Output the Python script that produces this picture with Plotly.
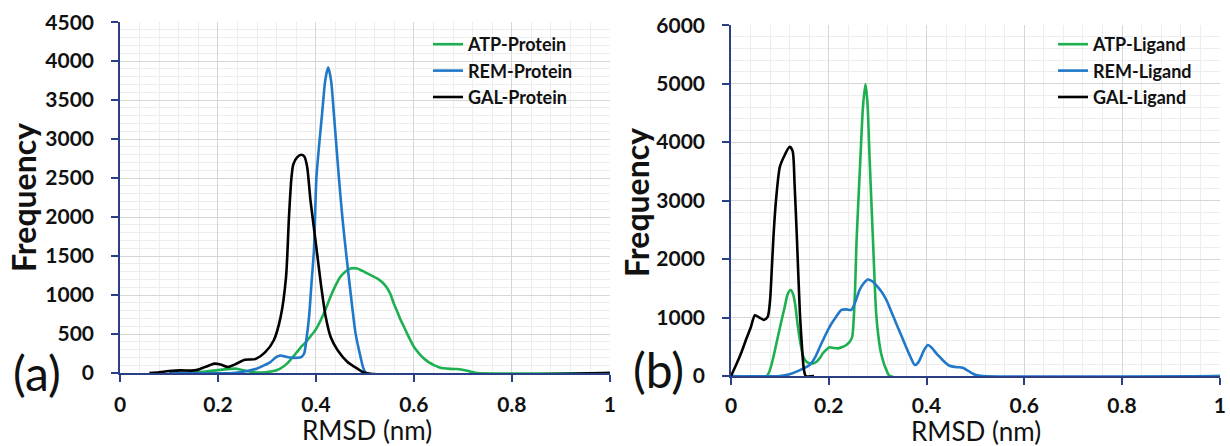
import plotly.graph_objects as go

# ---------------- Panel (a): protein RMSD distributions ----------------
atp_p_x = [0.10, 0.15, 0.175, 0.197, 0.218, 0.238, 0.259, 0.279, 0.297, 0.314, 0.328, 0.341, 0.355,
           0.369, 0.38, 0.389, 0.40, 0.41, 0.42, 0.43, 0.44, 0.45, 0.46, 0.471, 0.484, 0.495, 0.505,
           0.515, 0.525, 0.536, 0.546, 0.553, 0.559, 0.566, 0.573, 0.58, 0.586, 0.593, 0.60, 0.61,
           0.62, 0.63, 0.641, 0.651, 0.661, 0.675, 0.688, 0.699, 0.709, 0.72, 0.729, 1.0]
atp_p_y = [0, 5, 20, 34, 50, 55, 25, 5, 10, 25, 60, 120, 220,
           330, 400, 470, 560, 680, 820, 980, 1120, 1234, 1300, 1340, 1340, 1310, 1277,
           1245, 1213, 1160, 1085, 1000, 892, 790, 680, 590, 508, 420, 337, 255,
           188, 140, 102, 75, 60, 53, 51, 42, 30, 12, 0, 0]

rem_p_x = [0.10, 0.231, 0.26, 0.279, 0.295, 0.307, 0.318, 0.328, 0.335, 0.341, 0.352, 0.362, 0.37,
           0.376, 0.381, 0.386, 0.391, 0.396, 0.401, 0.407, 0.413, 0.419, 0.425, 0.431, 0.437,
           0.442, 0.447, 0.454, 0.461, 0.471, 0.481, 0.491, 0.497, 0.503, 1.0]
rem_p_y = [0, 0, 25, 55, 100, 140, 200, 225, 215, 205, 195, 196, 205,
           250, 450, 720, 1150, 1575, 2500, 2950, 3350, 3750, 3920, 3750, 3300,
           2900, 2500, 2000, 1575, 1020, 508, 210, 60, 0, 0]

gal_p_x = [0.06, 0.08, 0.10, 0.124, 0.145, 0.158, 0.175, 0.193, 0.205, 0.22, 0.235, 0.255, 0.276,
           0.297, 0.314, 0.328, 0.339, 0.345, 0.35, 0.354, 0.362, 0.37, 0.376, 0.382, 0.389, 0.40,
           0.41, 0.42, 0.43, 0.444, 0.464, 0.484, 0.501, 1.0]
gal_p_y = [0, 10, 25, 34, 30, 40, 80, 120, 110, 77, 110, 170, 178,
           270, 420, 720, 1230, 2000, 2500, 2680, 2770, 2800, 2780, 2650, 2210, 1660,
           1150, 720, 465, 295, 145, 60, 0, 0]

# ---------------- Panel (b): ligand RMSD distributions ----------------
atp_l_x = [0.0, 0.073, 0.083, 0.093, 0.102, 0.11, 0.116, 0.122, 0.127, 0.131, 0.136, 0.141, 0.148,
           0.155, 0.161, 0.168, 0.175, 0.182, 0.188, 0.195, 0.202, 0.21, 0.219, 0.228, 0.236, 0.244,
           0.248, 0.253, 0.257, 0.2646, 0.27, 0.275, 0.279, 0.2837, 0.2905, 0.297, 0.302, 0.307,
           0.318, 0.325, 1.0]
atp_l_y = [0, 0, 200, 560, 900, 1185, 1400, 1470, 1400, 1240, 900, 615, 330,
           240, 217, 215, 245, 310, 388, 450, 490, 480, 473, 495, 530, 600,
           672, 1300, 2325, 3692, 4600, 4990, 4700, 3692, 2325, 1070, 650, 390,
           100, 0, 0]

rem_l_x = [0.0, 0.10, 0.12, 0.134, 0.148, 0.161, 0.172, 0.182, 0.192, 0.202, 0.214, 0.226, 0.236,
           0.246, 0.255, 0.263, 0.272, 0.28, 0.289, 0.297, 0.308, 0.318, 0.328, 0.338, 0.348, 0.358,
           0.367, 0.376, 0.383, 0.389, 0.396, 0.403, 0.411, 0.42, 0.43, 0.44, 0.447, 0.454, 0.464,
           0.474, 0.481, 0.488, 0.495, 0.501, 0.515, 1.0]
rem_l_y = [0, 0, 30, 74, 130, 188, 320, 500, 680, 845, 1000, 1130, 1140,
           1130, 1280, 1470, 1590, 1650, 1620, 1555, 1440, 1300, 1100, 900, 700, 500,
           330, 188, 230, 330, 460, 530, 480, 388, 300, 217, 175, 160, 150,
           143, 110, 74, 40, 17, 0, 0]

gal_l_x = [0.0, 0.011, 0.022, 0.032, 0.04, 0.049, 0.058, 0.067, 0.075, 0.08, 0.083, 0.087, 0.092,
           0.10, 0.11, 0.12, 0.126, 0.13, 0.135, 0.141, 0.146, 0.149, 0.153, 0.17]
gal_l_y = [0, 200, 420, 650, 820, 1040, 1000, 960, 1010, 1300, 1750, 2400, 3000,
           3578, 3780, 3920, 3850, 3300, 2325, 1070, 400, 120, 0, 0]

# ---------------- Tick labels ----------------
x_ticks = [0, 0.2, 0.4, 0.6, 0.8, 1]
x_tick_text = ["0", "0.2", "0.4", "0.6", "0.8", "1"]
y1_ticks = [0, 500, 1000, 1500, 2000, 2500, 3000, 3500, 4000, 4500]
y2_ticks = [0, 1000, 2000, 3000, 4000, 5000, 6000]

GREEN = "#1DB050"
BLUE = "#1F78C8"
BLACK = "#000000"
AXIS = "#2B3F86"
FONT = "Lato"

fig = go.Figure()

def add(x, y, name, color, xa, ya, leg):
    fig.add_trace(go.Scatter(
        x=x, y=y, name=name, mode="lines",
        line=dict(color=color, width=2.6, shape="spline", smoothing=0.7),
        xaxis=xa, yaxis=ya, legend=leg))

add(atp_p_x, atp_p_y, "ATP-Protein", GREEN, "x", "y", "legend")
add(rem_p_x, rem_p_y, "REM-Protein", BLUE, "x", "y", "legend")
add(gal_p_x, gal_p_y, "GAL-Protein", BLACK, "x", "y", "legend")
add(atp_l_x, atp_l_y, "ATP-Ligand", GREEN, "x2", "y2", "legend2")
add(rem_l_x, rem_l_y, "REM-Ligand", BLUE, "x2", "y2", "legend2")
add(gal_l_x, gal_l_y, "GAL-Ligand", BLACK, "x2", "y2", "legend2")

W, H = 1230, 446
TICKFONT = dict(family=FONT, size=21, color="#111", weight=700)

def bold(labels):
    return ["<b>%s</b>" % t for t in labels]

def xaxis_cfg(domain, anchor, standoff):
    return dict(
        domain=domain, anchor=anchor, range=[0, 1.0005], automargin=False,
        tickmode="array", tickvals=x_ticks, ticktext=bold(x_tick_text),
        showline=True, linecolor=AXIS, linewidth=1.6,
        ticks="outside", ticklen=7, tickcolor=AXIS, tickwidth=1.6,
        ticklabelstandoff=standoff, tickfont=TICKFONT,
        showgrid=True, gridcolor="#D6D6D6", gridwidth=1.2,
        minor=dict(dtick=0.04, tick0=0, showgrid=True, gridcolor="#EDEDED", gridwidth=1, ticks=""),
        zeroline=False,
    )

def yaxis_cfg(domain, anchor, rng, ticks, minor):
    return dict(
        domain=domain, anchor=anchor, range=rng, automargin=False,
        tickmode="array", tickvals=ticks, ticktext=bold([str(t) for t in ticks]),
        showline=True, linecolor=AXIS, linewidth=1.6,
        ticks="outside", ticklen=7, tickcolor=AXIS, tickwidth=1.6,
        ticklabelstandoff=13, tickfont=TICKFONT,
        showgrid=True, gridcolor="#D6D6D6", gridwidth=1.2,
        minor=dict(dtick=minor, tick0=0, showgrid=True, gridcolor="#EDEDED", gridwidth=1, ticks=""),
        zeroline=False,
    )

fig.update_layout(
    width=W, height=H,
    margin=dict(l=0, r=0, t=0, b=0, autoexpand=False),
    paper_bgcolor="white", plot_bgcolor="white",
    xaxis=xaxis_cfg([120 / W, 610 / W], "y", 5),
    yaxis=yaxis_cfg([1 - 373 / H, 1 - 22 / H], "x", [0, 4502], y1_ticks, 100),
    xaxis2=xaxis_cfg([731 / W, 1220 / W], "y2", 3),
    yaxis2=yaxis_cfg([1 - 376 / H, 1 - 25 / H], "x2", [0, 6003], y2_ticks, 200),
    legend=dict(x=428 / W, y=1 - 26 / H, xanchor="left", yanchor="top",
                bgcolor="rgba(0,0,0,0)", tracegroupgap=0,
                font=dict(family=FONT, size=18, color="#111", weight=700)),
    legend2=dict(x=1053 / W, y=1 - 26 / H, xanchor="left", yanchor="top",
                 bgcolor="rgba(0,0,0,0)", tracegroupgap=0,
                 font=dict(family=FONT, size=18, color="#111", weight=700)),
    font=dict(family=FONT),
)

ann = [
    dict(text="<b>Frequency</b>", x=24 / W, y=1 - 198 / H, textangle=-90,
         font=dict(family=FONT, size=32, color="#111")),
    dict(text="<b>Frequency</b>", x=636 / W, y=1 - 203 / H, textangle=-90,
         font=dict(family=FONT, size=32, color="#111")),
    dict(text="RMSD (nm)", x=367 / W, y=1 - 430 / H,
         font=dict(family=FONT, size=26, color="#111")),
    dict(text="RMSD (nm)", x=976 / W, y=1 - 431 / H,
         font=dict(family=FONT, size=26, color="#111")),
    dict(text="(a)", x=37 / W, y=1 - 372 / H,
         font=dict(family=FONT, size=48, color="#111")),
    dict(text="(b)", x=658 / W, y=1 - 369 / H,
         font=dict(family=FONT, size=48, color="#111")),
]
for a in ann:
    a.update(xref="paper", yref="paper", showarrow=False, xanchor="center", yanchor="middle")
    fig.add_annotation(**a)

fig.write_html(
    "out.html",
    config={"displayModeBar": False},
    post_script="document.body.style.margin='0';document.body.style.padding='0';"
                "document.documentElement.style.overflow='hidden';",
)
